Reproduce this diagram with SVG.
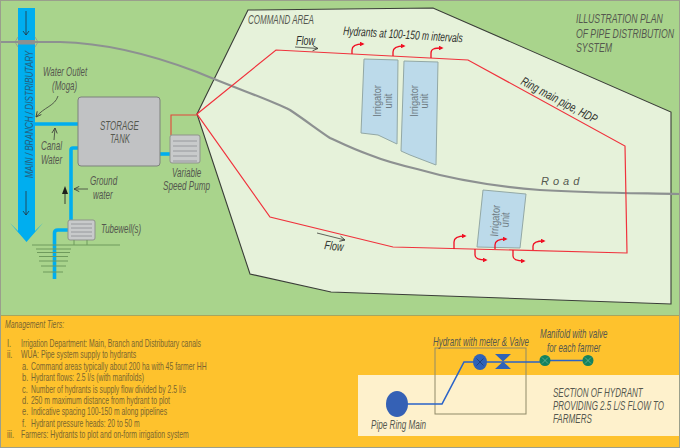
<svg xmlns="http://www.w3.org/2000/svg" width="680" height="448" viewBox="0 0 680 448">
  <style>
    text { font-family: "Liberation Sans", Arial, sans-serif; font-size: 12.5px; fill: #55584f; font-style: italic; }
    .big { font-size: 13px; }
    .dk { fill: #2d2f2b; }
    .tier { font-size: 10.5px; fill: #7a6630; font-style: normal; }
    .unit { font-size: 11.5px; fill: #6f7c84; text-anchor: middle; font-style: normal; }
    .ring { fill: none; stroke: #f0323c; stroke-width: 1.2; }
    .hyd { fill: none; stroke: #f00f23; stroke-width: 1.3; }
    .water { fill: none; stroke: #00aeef; stroke-width: 3.6; }
    .note { fill: none; stroke: #3c3f3a; stroke-width: 0.8; }
    .soil { stroke: #6f9a5c; stroke-width: 1; }
    .road { fill: none; stroke: #8d9191; stroke-width: 2.2; }
    .box { fill: #c8cacb; stroke: #8f938c; stroke-width: 1; }
    .slat { stroke: #8a8e92; stroke-width: 0.8; }
    .plot { fill: #bcdaea; stroke: #93a8a5; stroke-width: 1; }
    .feed { fill: none; stroke: #2a63c8; stroke-width: 1.6; }
  </style>
  <defs>
    <marker id="tip" viewBox="0 0 6 6" refX="4" refY="3" markerWidth="3.6" markerHeight="3.6" orient="auto">
      <path d="M0 0L6 3L0 6Z" fill="#f00f23"/>
    </marker>
    <marker id="open" viewBox="0 0 8 8" refX="7" refY="4" markerWidth="7" markerHeight="7" orient="auto" markerUnits="userSpaceOnUse">
      <path d="M1 1L7 4L1 7" fill="none" stroke="#3c3f3a" stroke-width="1"/>
    </marker>
  </defs>

  <!-- ground and panels -->
  <rect width="680" height="448" fill="#a9d48c"/>
  <rect x="0" y="315" width="680" height="133" fill="#fec22d"/>
  <path d="M0 315.500H680" stroke="#a8a55c" stroke-width="1"/>
  <rect x="358" y="375" width="322" height="61" fill="#fef1cc"/>

  <g id="command-area">
    <path d="M197 114L248 10L433 8L671 112V304L331 292L250 274Z" fill="#e6f2da" stroke="#3a3d38" stroke-width="1.1"/>
    <text transform="translate(248 24) scale(.68 1)" textLength="97" lengthAdjust="spacingAndGlyphs">COMMAND AREA</text>
  </g>

  <g id="title">
    <text class="big" transform="translate(576 23) scale(.667 1)" textLength="130" lengthAdjust="spacingAndGlyphs">ILLUSTRATION PLAN</text>
    <text class="big" transform="translate(576 37.500) scale(.667 1)" textLength="147" lengthAdjust="spacingAndGlyphs">OF PIPE DISTRIBUTION</text>
    <text class="big" transform="translate(576 52) scale(.667 1)" textLength="54" lengthAdjust="spacingAndGlyphs">SYSTEM</text>
  </g>

  <g id="canal">
    <path d="M18 8H35V231L43 223L26.500 242L10 223L18 231Z" fill="#00aeef"/>
    <text transform="translate(32.500 178) rotate(-90) scale(.68 1)" textLength="187" lengthAdjust="spacingAndGlyphs" style="fill:#245f80;font-size:11px">MAIN / BRANCH / DISTRIBUTARY</text>
    <path d="M26 11V35M23 31L26 35L29 31M26 191V215M23 211L26 215L29 211" fill="none" stroke="#26343c" stroke-width="0.8"/>
  </g>

  <g id="irrigator-units">
    <g id="unit-1">
      <path class="plot" d="M364 59L398 60L397 144L378 135L361 133Z"/>
      <text class="unit" transform="translate(381 101) rotate(-90) scale(.8 1)">Irrigator</text>
      <text class="unit" transform="translate(391.500 101) rotate(-90) scale(.8 1)">unit</text>
    </g>
    <g id="unit-2">
      <path class="plot" d="M404 61L438 62L436 165L410 155L401 151Z"/>
      <text class="unit" transform="translate(417.500 101) rotate(-90) scale(.8 1)">Irrigator</text>
      <text class="unit" transform="translate(428 101) rotate(-90) scale(.8 1)">unit</text>
    </g>
    <g id="unit-3">
      <path class="plot" d="M483 190L526 194L520 248L477 247Z"/>
      <text class="unit" transform="translate(499 221) rotate(-86) scale(.8 1)">Irrigator</text>
      <text class="unit" transform="translate(509 220) rotate(-86) scale(.8 1)">unit</text>
    </g>
  </g>

  <g id="road">
    <path class="road" d="M0 42H60C105 43 150 54 197 72C240 90 268 99 290 110C305 120 318 130 330 138C345 145 355 150 370 155C385 161 400 165 417 169C455 180 490 186 540 190C590 193 630 193 680 194"/>
    <path d="M18 37L15 42L18 47M35 37L38 42L35 47" fill="none" stroke="#8d9191" stroke-width="0.7"/>
    <text x="541" y="185" style="font-size:11px" letter-spacing="4">Road</text>
  </g>

  <g id="connectors">
    <path class="ring" d="M197 114L276 50L468 60L625 146L627 253L393 247L270 217Z"/>
    <path d="M197 115H171V135" fill="none" stroke="#e4453a" stroke-width="1.100"/>
    <path class="hyd" marker-end="url(#tip)" d="M352 54V50C352 46 355 44 363 44"/>
    <path class="hyd" marker-end="url(#tip)" d="M393 56V52C393 48 396 46 404 46"/>
    <path class="hyd" marker-end="url(#tip)" d="M431 58V53C431 49 434 48 442 48"/>
    <path class="hyd" marker-end="url(#tip)" d="M454 249V242C454 238 457 236 465 236"/>
    <path class="hyd" marker-end="url(#tip)" d="M495 249V245C495 241 498 239 506 239"/>
    <path class="hyd" marker-end="url(#tip)" d="M533 250V246C533 243 536 241 544 241"/>
    <path class="hyd" marker-end="url(#tip)" d="M475 249V255C475 258 478 260 486 260"/>
    <path class="hyd" marker-end="url(#tip)" d="M513 250V256C513 259 516 261 524 261"/>
    <path class="water" d="M35 124H83"/>
    <path class="water" d="M85 148H73C71.500 148 71 149 71 150V220"/>
    <path class="water" d="M160 154H170"/>
    <path class="water" d="M68 230H58C55.500 230 54.500 231 54.500 233V279"/>
    <path class="note" marker-end="url(#open)" d="M58 96C55 106 44 107 36 117"/>
    <path class="note" marker-end="url(#open)" d="M54 140L55 128"/>
    <path class="note" marker-end="url(#open)" d="M88 189H74"/>
    <path class="note" marker-end="url(#open)" d="M295 47L318 48.500"/>
    <path class="note" marker-end="url(#open)" d="M317 233L345 240"/>
    <path d="M65 204V190" stroke="#1d1f1c" stroke-width="0.8"/>
    <path d="M62 194L65 186L68 194Z" fill="#1d1f1c"/>
  </g>

  <g id="storage-tank">
    <rect x="78" y="97" width="82" height="69" rx="3" fill="#c1c2c4" stroke="#7d817c" stroke-width="1"/>
    <text transform="translate(100 130) scale(.68 1)" textLength="57" lengthAdjust="spacingAndGlyphs">STORAGE</text>
    <text transform="translate(110 143) scale(.68 1)" textLength="29" lengthAdjust="spacingAndGlyphs">TANK</text>
  </g>

  <g id="pump">
    <rect class="box" x="170" y="135" width="30" height="28" rx="2"/>
    <path class="slat" d="M173 141H197M173 146H197M173 151H197M173 156H197M173 161H197"/>
    <text transform="translate(172 177) scale(.68 1)" textLength="43" lengthAdjust="spacingAndGlyphs">Variable</text>
    <text transform="translate(163 190) scale(.68 1)" textLength="69" lengthAdjust="spacingAndGlyphs">Speed Pump</text>
  </g>

  <g id="tubewell">
    <rect class="box" x="68" y="220" width="27" height="20" rx="2"/>
    <path class="slat" d="M71 224H92M71 228H92M71 232H92M71 236H92"/>
    <path d="M74 240V245M87 240V245" class="soil"/>
    <path class="soil" d="M32 245H120M36 249H71M37 252.500H70M39 256.500H68M39 261H68M41 266H66M43 272H63"/>
    <text transform="translate(101 233) scale(.68 1)" textLength="59" lengthAdjust="spacingAndGlyphs">Tubewell(s)</text>
  </g>

  <g id="labels">
    <text transform="translate(43 76) scale(.68 1)" textLength="65" lengthAdjust="spacingAndGlyphs">Water Outlet</text>
    <text transform="translate(52 90) scale(.68 1)" textLength="37" lengthAdjust="spacingAndGlyphs">(Moga)</text>
    <text transform="translate(41 149.500) scale(.68 1)" textLength="31" lengthAdjust="spacingAndGlyphs">Canal</text>
    <text transform="translate(41 163.500) scale(.68 1)" textLength="31" lengthAdjust="spacingAndGlyphs">Water</text>
    <text transform="translate(90 185) scale(.68 1)" textLength="40" lengthAdjust="spacingAndGlyphs">Ground</text>
    <text transform="translate(93 199) scale(.68 1)" textLength="29" lengthAdjust="spacingAndGlyphs">water</text>
    <text class="dk" transform="translate(296 44.500) scale(.68 1)" textLength="28" lengthAdjust="spacingAndGlyphs">Flow</text>
    <text class="dk" transform="translate(324 249) rotate(7) scale(.68 1)" textLength="28" lengthAdjust="spacingAndGlyphs">Flow</text>
    <text class="dk" transform="translate(343 35) rotate(3.500) scale(.68 1)" textLength="176" lengthAdjust="spacingAndGlyphs">Hydrants at 100-150 m intervals</text>
    <text class="dk" transform="translate(520 84) rotate(28) scale(.68 1)" textLength="124" lengthAdjust="spacingAndGlyphs">Ring main pipe, HDP</text>
  </g>

  <g id="management-tiers">
    <text class="tier" style="font-style:italic" transform="translate(5 328) scale(.72 1)" textLength="82" lengthAdjust="spacingAndGlyphs">Management Tiers:</text>
    <text class="tier" transform="translate(7 347) scale(.72 1)">I.</text>
    <text class="tier" transform="translate(21 347) scale(.72 1)" textLength="250" lengthAdjust="spacingAndGlyphs">Irrigation Department: Main, Branch and Distributary canals</text>
    <text class="tier" transform="translate(7 358) scale(.72 1)">ii.</text>
    <text class="tier" transform="translate(21 358) scale(.72 1)" textLength="160" lengthAdjust="spacingAndGlyphs">WUA: Pipe system supply to hydrants</text>
    <text class="tier" transform="translate(22 369.500) scale(.72 1)">a.</text>
    <text class="tier" transform="translate(31 369.500) scale(.72 1)" textLength="244" lengthAdjust="spacingAndGlyphs">Command areas typically about 200 ha with 45 farmer HH</text>
    <text class="tier" transform="translate(22 381) scale(.72 1)">b.</text>
    <text class="tier" transform="translate(31 381) scale(.72 1)" textLength="157" lengthAdjust="spacingAndGlyphs">Hydrant flows: 2.5 l/s (with manifolds)</text>
    <text class="tier" transform="translate(22 392.500) scale(.72 1)">c.</text>
    <text class="tier" transform="translate(31 392.500) scale(.72 1)" textLength="215" lengthAdjust="spacingAndGlyphs">Number of hydrants is supply flow divided by 2.5 l/s</text>
    <text class="tier" transform="translate(22 404) scale(.72 1)">d.</text>
    <text class="tier" transform="translate(31 404) scale(.72 1)" textLength="193" lengthAdjust="spacingAndGlyphs">250 m maximum distance from hydrant to plot</text>
    <text class="tier" transform="translate(22 415) scale(.72 1)">e.</text>
    <text class="tier" transform="translate(31 415) scale(.72 1)" textLength="189" lengthAdjust="spacingAndGlyphs">Indicative spacing 100-150 m along pipelines</text>
    <text class="tier" transform="translate(22 426.500) scale(.72 1)">f.</text>
    <text class="tier" transform="translate(31 426.500) scale(.72 1)" textLength="151" lengthAdjust="spacingAndGlyphs">Hydrant pressure heads: 20 to 50 m</text>
    <text class="tier" transform="translate(7 438) scale(.72 1)">iii.</text>
    <text class="tier" transform="translate(21 438) scale(.72 1)" textLength="233" lengthAdjust="spacingAndGlyphs">Farmers: Hydrants to plot and on-form irrigation system</text>
  </g>

  <g id="hydrant-section">
    <rect x="435" y="348" width="91" height="66" fill="none" stroke="#8f8a68" stroke-width="1"/>
    <path class="feed" d="M407 404H442L464 362H545M545 360.500H588"/>
    <g id="ring-main">
      <ellipse cx="397" cy="404" rx="11" ry="13" fill="#3561b5"/>
      <text transform="translate(371 429) scale(.68 1)" textLength="81" lengthAdjust="spacingAndGlyphs">Pipe Ring Main</text>
    </g>
    <g id="meter">
      <ellipse cx="480" cy="362" rx="7" ry="8" fill="#2f62b8"/>
      <path d="M476.500 358.500L483.500 365.500M483.500 358.500L476.500 365.500" stroke="#16305f" stroke-width="0.6"/>
    </g>
    <path id="valve" d="M495 354H511L495 369H511Z" fill="#2f62b8"/>
    <g id="manifold-1">
      <circle cx="545" cy="360.500" r="5.500" fill="#15825f"/>
      <path d="M542 357.500L548 363.500M548 357.500L542 363.500" stroke="#7fc4a8" stroke-width="0.6"/>
    </g>
    <g id="manifold-2">
      <circle cx="588" cy="360.500" r="5.500" fill="#15825f"/>
      <path d="M585 357.500L591 363.500M591 357.500L585 363.500" stroke="#7fc4a8" stroke-width="0.6"/>
    </g>
    <text transform="translate(433 346) scale(.68 1)" textLength="141" lengthAdjust="spacingAndGlyphs">Hydrant with meter &amp; Valve</text>
    <text transform="translate(540 338) scale(.68 1)" textLength="99" lengthAdjust="spacingAndGlyphs">Manifold with valve</text>
    <text transform="translate(547 352) scale(.68 1)" textLength="79" lengthAdjust="spacingAndGlyphs">for each farmer</text>
    <text class="big" transform="translate(553 397) scale(.66 1)" textLength="136" lengthAdjust="spacingAndGlyphs">SECTION OF HYDRANT</text>
    <text class="big" transform="translate(553 410) scale(.66 1)" textLength="168" lengthAdjust="spacingAndGlyphs">PROVIDING 2.5 L/S FLOW TO</text>
    <text class="big" transform="translate(553 423) scale(.66 1)" textLength="59" lengthAdjust="spacingAndGlyphs">FARMERS</text>
  </g>

  <!-- road deck over the canal, outer frame -->
  <rect x="18" y="40" width="17" height="4.500" fill="#8d9191"/>
  <rect x="0.500" y="0.500" width="679" height="447" fill="none" stroke="#9a9f8c"/>
</svg>
